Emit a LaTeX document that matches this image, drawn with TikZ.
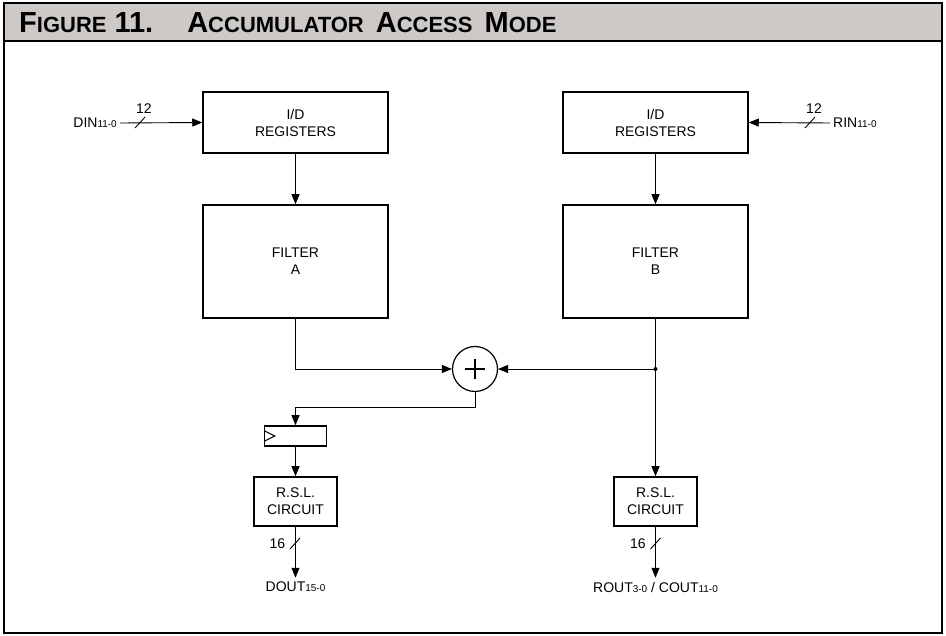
\documentclass[tikz,border=0pt]{standalone}
\usepackage{fontspec}
\setmainfont{Liberation Sans}
\usetikzlibrary{arrows.meta}
\definecolor{hdrgray}{RGB}{204,201,199}
\newcommand{\busidx}[1]{{\fontsize{10}{12}\selectfont #1}}
\newcommand{\bigsc}[2]{{\fontsize{29}{29}\selectfont #1}{\fontsize{22}{22}\selectfont #2}}

\begin{document}
\begin{tikzpicture}[x=1pt, y=-1pt,
		font=\fontsize{14}{17}\selectfont,
		box/.style={draw, line width=1.5pt, align=center, inner sep=0pt},
		wire/.style={line width=0.9pt},
		flow/.style={wire, -{Triangle[length=10pt, width=8pt]}},
		tick/.style={line width=0.9pt}]
		
		\useasboundingbox (0,0) rectangle (946,636);
		\draw[line width=2.4pt, fill=hdrgray] (4,3) rectangle (942,41);
		\draw[line width=2.4pt] (4,41) rectangle (942,633);
		\node (title) at (19,23) [anchor=west, inner sep=0pt, font=\bfseries] {\bigsc{F}{IGURE}\hspace{8pt}\bigsc{11.}{}\hspace{34pt}\bigsc{A}{CCUMULATOR}\hspace{12pt}\bigsc{A}{CCESS}\hspace{12pt}\bigsc{M}{ODE}};
		
		\node (idA) at (295.5,122.5) [box, minimum width=185pt, minimum height=61pt] {I/D\\REGISTERS};
		\node (idB) at (655.5,122.5) [box, minimum width=185pt, minimum height=61pt] {I/D\\REGISTERS};
		\node (filtA) at (295.5,261.5) [box, minimum width=185pt, minimum height=113pt] {FILTER\\A};
		\node (filtB) at (655.5,261.5) [box, minimum width=185pt, minimum height=113pt] {FILTER\\B};
		\node (sum) at (475,369) [shape=circle, draw, line width=1.2pt, minimum size=45pt, inner sep=0pt] {};
		\draw[line width=1.1pt] (sum.center) ++(-10,0) -- ++(20,0) (sum.center) ++(0,-10) -- ++(0,20);
		\coordinate (dot) at (655.5,369);
		\node (reg) at (295.5,436) [box, minimum width=62pt, minimum height=20pt] {};
		\node (rslA) at (295.5,501.5) [box, minimum width=83pt, minimum height=49pt] {R.S.L.\\CIRCUIT};
		\node (rslB) at (655.5,501.5) [box, minimum width=83pt, minimum height=49pt] {R.S.L.\\CIRCUIT};
		
		\node (din) at (117,123) [anchor=east, inner sep=0pt] {DIN\busidx{11-0}};
		\node (rin) at (833,123) [anchor=west, inner sep=0pt] {RIN\busidx{11-0}};
		\node (dout) at (295.5,587) [inner sep=0pt] {DOUT\busidx{15-0}};
		\node (rout) at (655.5,587) [inner sep=0pt] {ROUT\busidx{3-0} / COUT\busidx{11-0}};
		
		\draw[flow] (din.east) ++(3,0) -- (idA.west);
		\draw[flow] (rin.west) ++(-3,0) -- (idB.east);
		\draw[tick] (135,128) -- (145,117) node[above=1pt, pos=0.9] {12};
		\draw[tick] (805,128) -- (815,117) node[above=1pt, pos=0.9] {12};
		
		\draw[flow] (idA) -- (filtA);
		\draw[flow] (idB) -- (filtB);
		\draw[flow] (filtA.south) |- (sum.west);
		\draw[flow] (filtB.south) -- (rslB.north);
		\draw[flow] (dot) -- (sum.east);
		\fill (dot) circle (2pt);
		\draw[flow] (sum.south) -- ++(0,15) -| (reg.north);
		\draw[wire] (reg.west) ++(1,-5) -- ++(10,5) -- ++(-10,5);
		\draw[flow] (reg) -- (rslA);
		
		\draw[flow] (rslA.south) -- ++(0,51);
		\draw[flow] (rslB.south) -- ++(0,51);
		\draw[tick] (290,549) -- (300,538) node[left=6pt, midway] {16};
		\draw[tick] (650.5,549) -- (660.5,538) node[left=6pt, midway] {16};
	\end{tikzpicture}
\end{document}
